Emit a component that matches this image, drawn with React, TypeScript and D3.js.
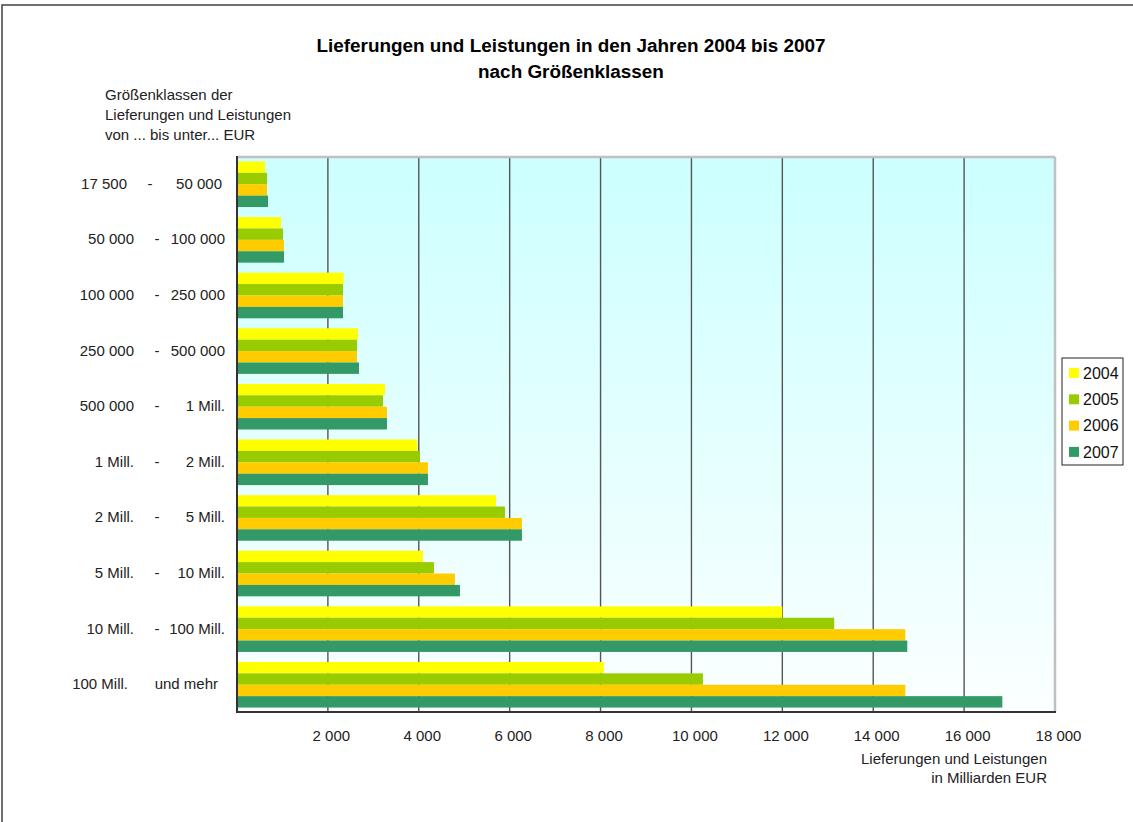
import React from 'react';
import * as d3 from 'd3';

// Größenklassen: untere / obere Grenze
const lowerBounds = ['17 500', '50 000', '100 000', '250 000', '500 000', '1 Mill.', '2 Mill.', '5 Mill.', '10 Mill.', '100 Mill.'];
const upperBounds = ['50 000', '100 000', '250 000', '500 000', '1 Mill.', '2 Mill.', '5 Mill.', '10 Mill.', '100 Mill.', 'und mehr'];

const years = ['2004', '2005', '2006', '2007'];

// Lieferungen und Leistungen in Milliarden EUR
const values2004 = [616, 968, 2347, 2662, 3256, 3967, 5698, 4092, 12000, 8072];
const values2005 = [660, 1012, 2332, 2640, 3212, 4026, 5896, 4334, 13142, 10253];
const values2006 = [660, 1034, 2332, 2640, 3300, 4202, 6270, 4796, 14705, 14705];
const values2007 = [682, 1034, 2332, 2684, 3300, 4202, 6270, 4906, 14750, 16841];

const xTicks = [2000, 4000, 6000, 8000, 10000, 12000, 14000, 16000, 18000];

const colors = ['#ffff00', '#99cc00', '#ffcc00', '#339966'];

const font = 'Liberation Sans, Arial, Helvetica, sans-serif';

const App = () => {
  const width = 1133;
  const height = 822;

  const left = 237, right = 1055, top = 157, bottom = 712;

  const series = [values2004, values2005, values2006, values2007];
  const categories = lowerBounds.map((d, i) => i);

  const x = d3.scaleLinear().domain([0, 18000]).range([left, right]);
  const y = d3.scaleBand<number>().domain(categories).range([top, bottom]).paddingInner(0.18).paddingOuter(0.08);
  const y1 = d3.scaleBand<number>().domain(d3.range(years.length)).range([0, y.bandwidth()]);

  const fmt = (v: number) => d3.format(',')(v).replace(/,/g, ' ');

  return (
    <div style={{ position: 'absolute', left: 0, top: 0 }}>
      <svg width={width} height={height} style={{ display: 'block', fontFamily: font }}>
        <defs>
          <linearGradient id="bg" x1="0" y1="0" x2="0" y2="1">
            <stop offset="0%" stopColor="#ccffff" />
            <stop offset="100%" stopColor="#fbffff" />
          </linearGradient>
        </defs>
        <rect width={width} height={height} fill="#fff" />
        {/* outer frame */}
        <rect x={2} y={5} width={width + 10} height={height + 10} fill="none" stroke="#404040" strokeWidth={1.5} />

        <text x={571} y={52} textAnchor="middle" fontSize={18.9} fontWeight="bold" fill="#000">
          Lieferungen und Leistungen in den Jahren 2004 bis 2007
        </text>
        <text x={571} y={78} textAnchor="middle" fontSize={18.9} fontWeight="bold" fill="#000">
          nach Größenklassen
        </text>

        <g fontSize={15} fill="#222">
          <text x={105} y={99.5}>Größenklassen der</text>
          <text x={105} y={120}>Lieferungen und Leistungen</text>
          <text x={105} y={140}>von ... bis unter... EUR</text>
        </g>

        {/* plot area */}
        <rect x={left} y={top} width={right - left} height={bottom - top} fill="url(#bg)" />
        {xTicks.filter(t => t < 18000).map(t => (
          <line key={t} x1={x(t)} x2={x(t)} y1={top} y2={bottom} stroke="#555" strokeWidth={1.4} />
        ))}
        <line x1={left} x2={right} y1={top} y2={top} stroke="#c0c0c0" strokeWidth={2.5} />
        <line x1={right} x2={right} y1={top} y2={bottom} stroke="#c0c0c0" strokeWidth={2.5} />

        {series.map((vals, s) => (
          <g key={years[s]} fill={colors[s]}>
            {vals.map((v, i) => (
              <rect key={i} x={x(0)} y={(y(i) ?? 0) + (y1(s) ?? 0)} width={x(v) - x(0)} height={y1.bandwidth()} />
            ))}
          </g>
        ))}

        <line x1={left} x2={left} y1={top - 1} y2={bottom + 1} stroke="#333" strokeWidth={2} />
        <line x1={left} x2={right + 1} y1={bottom} y2={bottom} stroke="#333" strokeWidth={2} />

        {/* category labels */}
        <g fontSize={15} fill="#222">
          {categories.map(i => {
            const cy = (y(i) ?? 0) + y.bandwidth() / 2 + 4.5;
            const last = i === categories.length - 1;
            const first = i === 0;
            return (
              <g key={i}>
                <text x={last ? 128 : first ? 127 : 134} y={cy} textAnchor="end">{lowerBounds[i]}</text>
                {!last && <text x={first ? 150 : 157} y={cy} textAnchor="middle">-</text>}
                <text x={last ? 218 : first ? 222 : 225} y={cy} textAnchor="end">{upperBounds[i]}</text>
              </g>
            );
          })}
        </g>

        {/* x tick labels */}
        <g fontSize={15} fill="#222">
          {xTicks.map(t => (
            <text key={t} x={x(t) + 3.5} y={741} textAnchor="middle">{fmt(t)}</text>
          ))}
          <text x={1047} y={764} textAnchor="end">Lieferungen und Leistungen</text>
          <text x={1047} y={783} textAnchor="end">in Milliarden EUR</text>
        </g>

        {/* legend */}
        <rect x={1062} y={358} width={61} height={107} fill="#fff" stroke="#222" strokeWidth={1} />
        {years.map((yr, s) => (
          <g key={yr} transform={`translate(1069, ${368 + s * 26.3})`}>
            <rect width={10} height={10} fill={colors[s]} />
            <text x={14} y={10.8} fontSize={16} fill="#111">{yr}</text>
          </g>
        ))}
      </svg>
    </div>
  );
};

export default App;
